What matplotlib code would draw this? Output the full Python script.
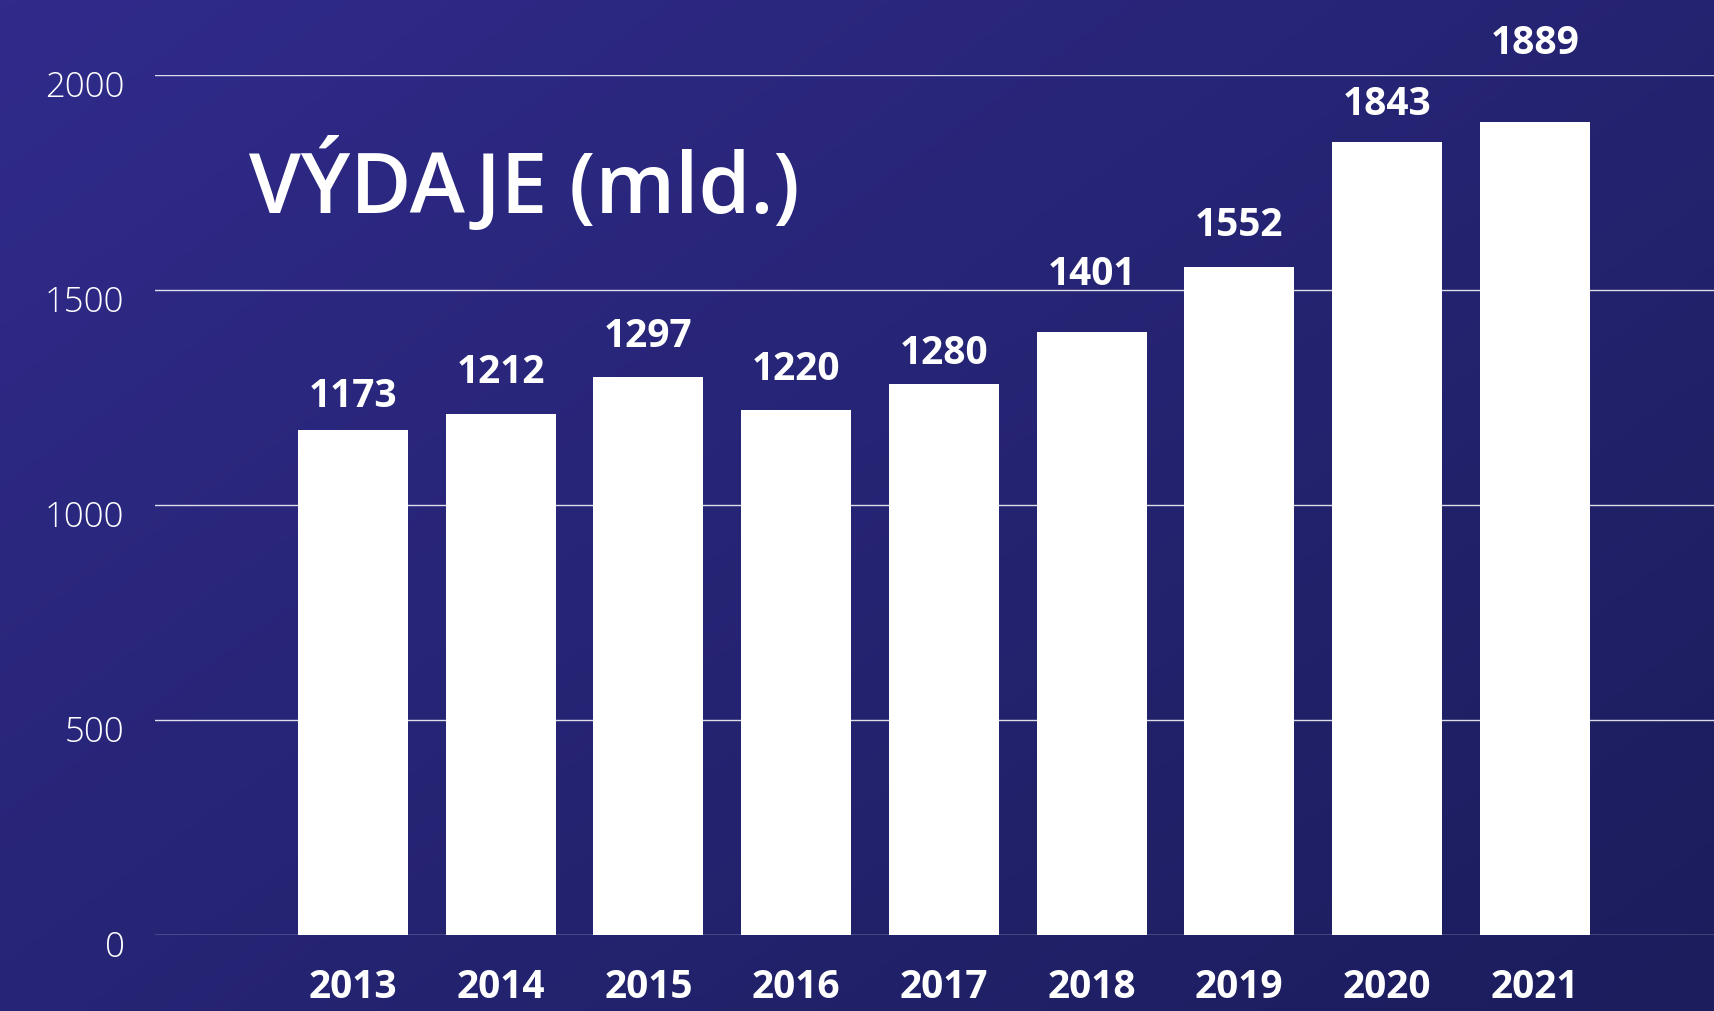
import numpy as np
import matplotlib
matplotlib.use("Agg")
import matplotlib.pyplot as plt
from matplotlib.colors import LinearSegmentedColormap
from matplotlib.transforms import ScaledTranslation

years = ["2013", "2014", "2015", "2016", "2017", "2018", "2019", "2020", "2021"]
values = [1173, 1212, 1297, 1220, 1280, 1401, 1552, 1843, 1889]
yticks = [0, 500, 1000, 1500, 2000]
title = "VÝDAJE (mld.)"

# gap (pixels) between each bar top and its value label, as placed in the original
label_gap_px = [23, 31, 30, 30, 20, 47, 31, 27, 68]

W, H = 1715, 1011
fig = plt.figure(figsize=(W / 100, H / 100), dpi=100)

# background gradient
bg = fig.add_axes([0, 0, 1, 1], zorder=-10)
gx, gy = np.meshgrid(np.linspace(0, 1, 300), np.linspace(0, 1, 200))
t = 0.55 * gx + 0.45 * gy
cmap = LinearSegmentedColormap.from_list("bg", ["#302b8b", "#1b1d5c"])
bg.imshow(t, cmap=cmap, aspect="auto", extent=[0, 1, 0, 1], origin="upper")
bg.axis("off")

left_px, right_px = 155, 1715
top_px, bot_px = 74.5, 935
ax = fig.add_axes([left_px / W, 1 - bot_px / H, (right_px - left_px) / W, (bot_px - top_px) / H])
ax.patch.set_alpha(0)

x = np.arange(len(years))
ax.bar(x, values, width=0.745, color="white", zorder=3)
ax.set_xlim(-1.34, 9.22)
ax.set_ylim(0, 2000)

for yv in yticks:
    ax.axhline(yv, color="white", lw=1.0, alpha=0.85, zorder=1)

for xi, v, g in zip(x, values, label_gap_px):
    ax.annotate(str(v), (xi, v), xytext=(0, g * 0.72), textcoords="offset points",
                ha="center", va="baseline", color="white", fontsize=28,
                fontweight="bold", family="Open Sans", annotation_clip=False)

for s in ax.spines.values():
    s.set_visible(False)
ax.set_yticks(yticks)
ax.set_yticklabels([str(v) for v in yticks], family="Open Sans", fontweight="light",
                   fontsize=25, color="white")
ax.tick_params(axis="y", length=0, pad=22)
for lab in ax.get_yticklabels():
    lab.set_verticalalignment("center")
    lab.set_transform(lab.get_transform() + ScaledTranslation(0, -13 / 100, fig.dpi_scale_trans))

ax.set_xticks(x)
ax.set_xticklabels(years, family="Open Sans", fontweight="bold", fontsize=28, color="white")
ax.tick_params(axis="x", length=0, pad=24)

fig.text(249 / W, 1 - 186 / H, title, color="white", fontsize=60, fontweight="semibold",
         family="Open Sans", ha="left", va="center")

fig.savefig("out.png", dpi=100)
